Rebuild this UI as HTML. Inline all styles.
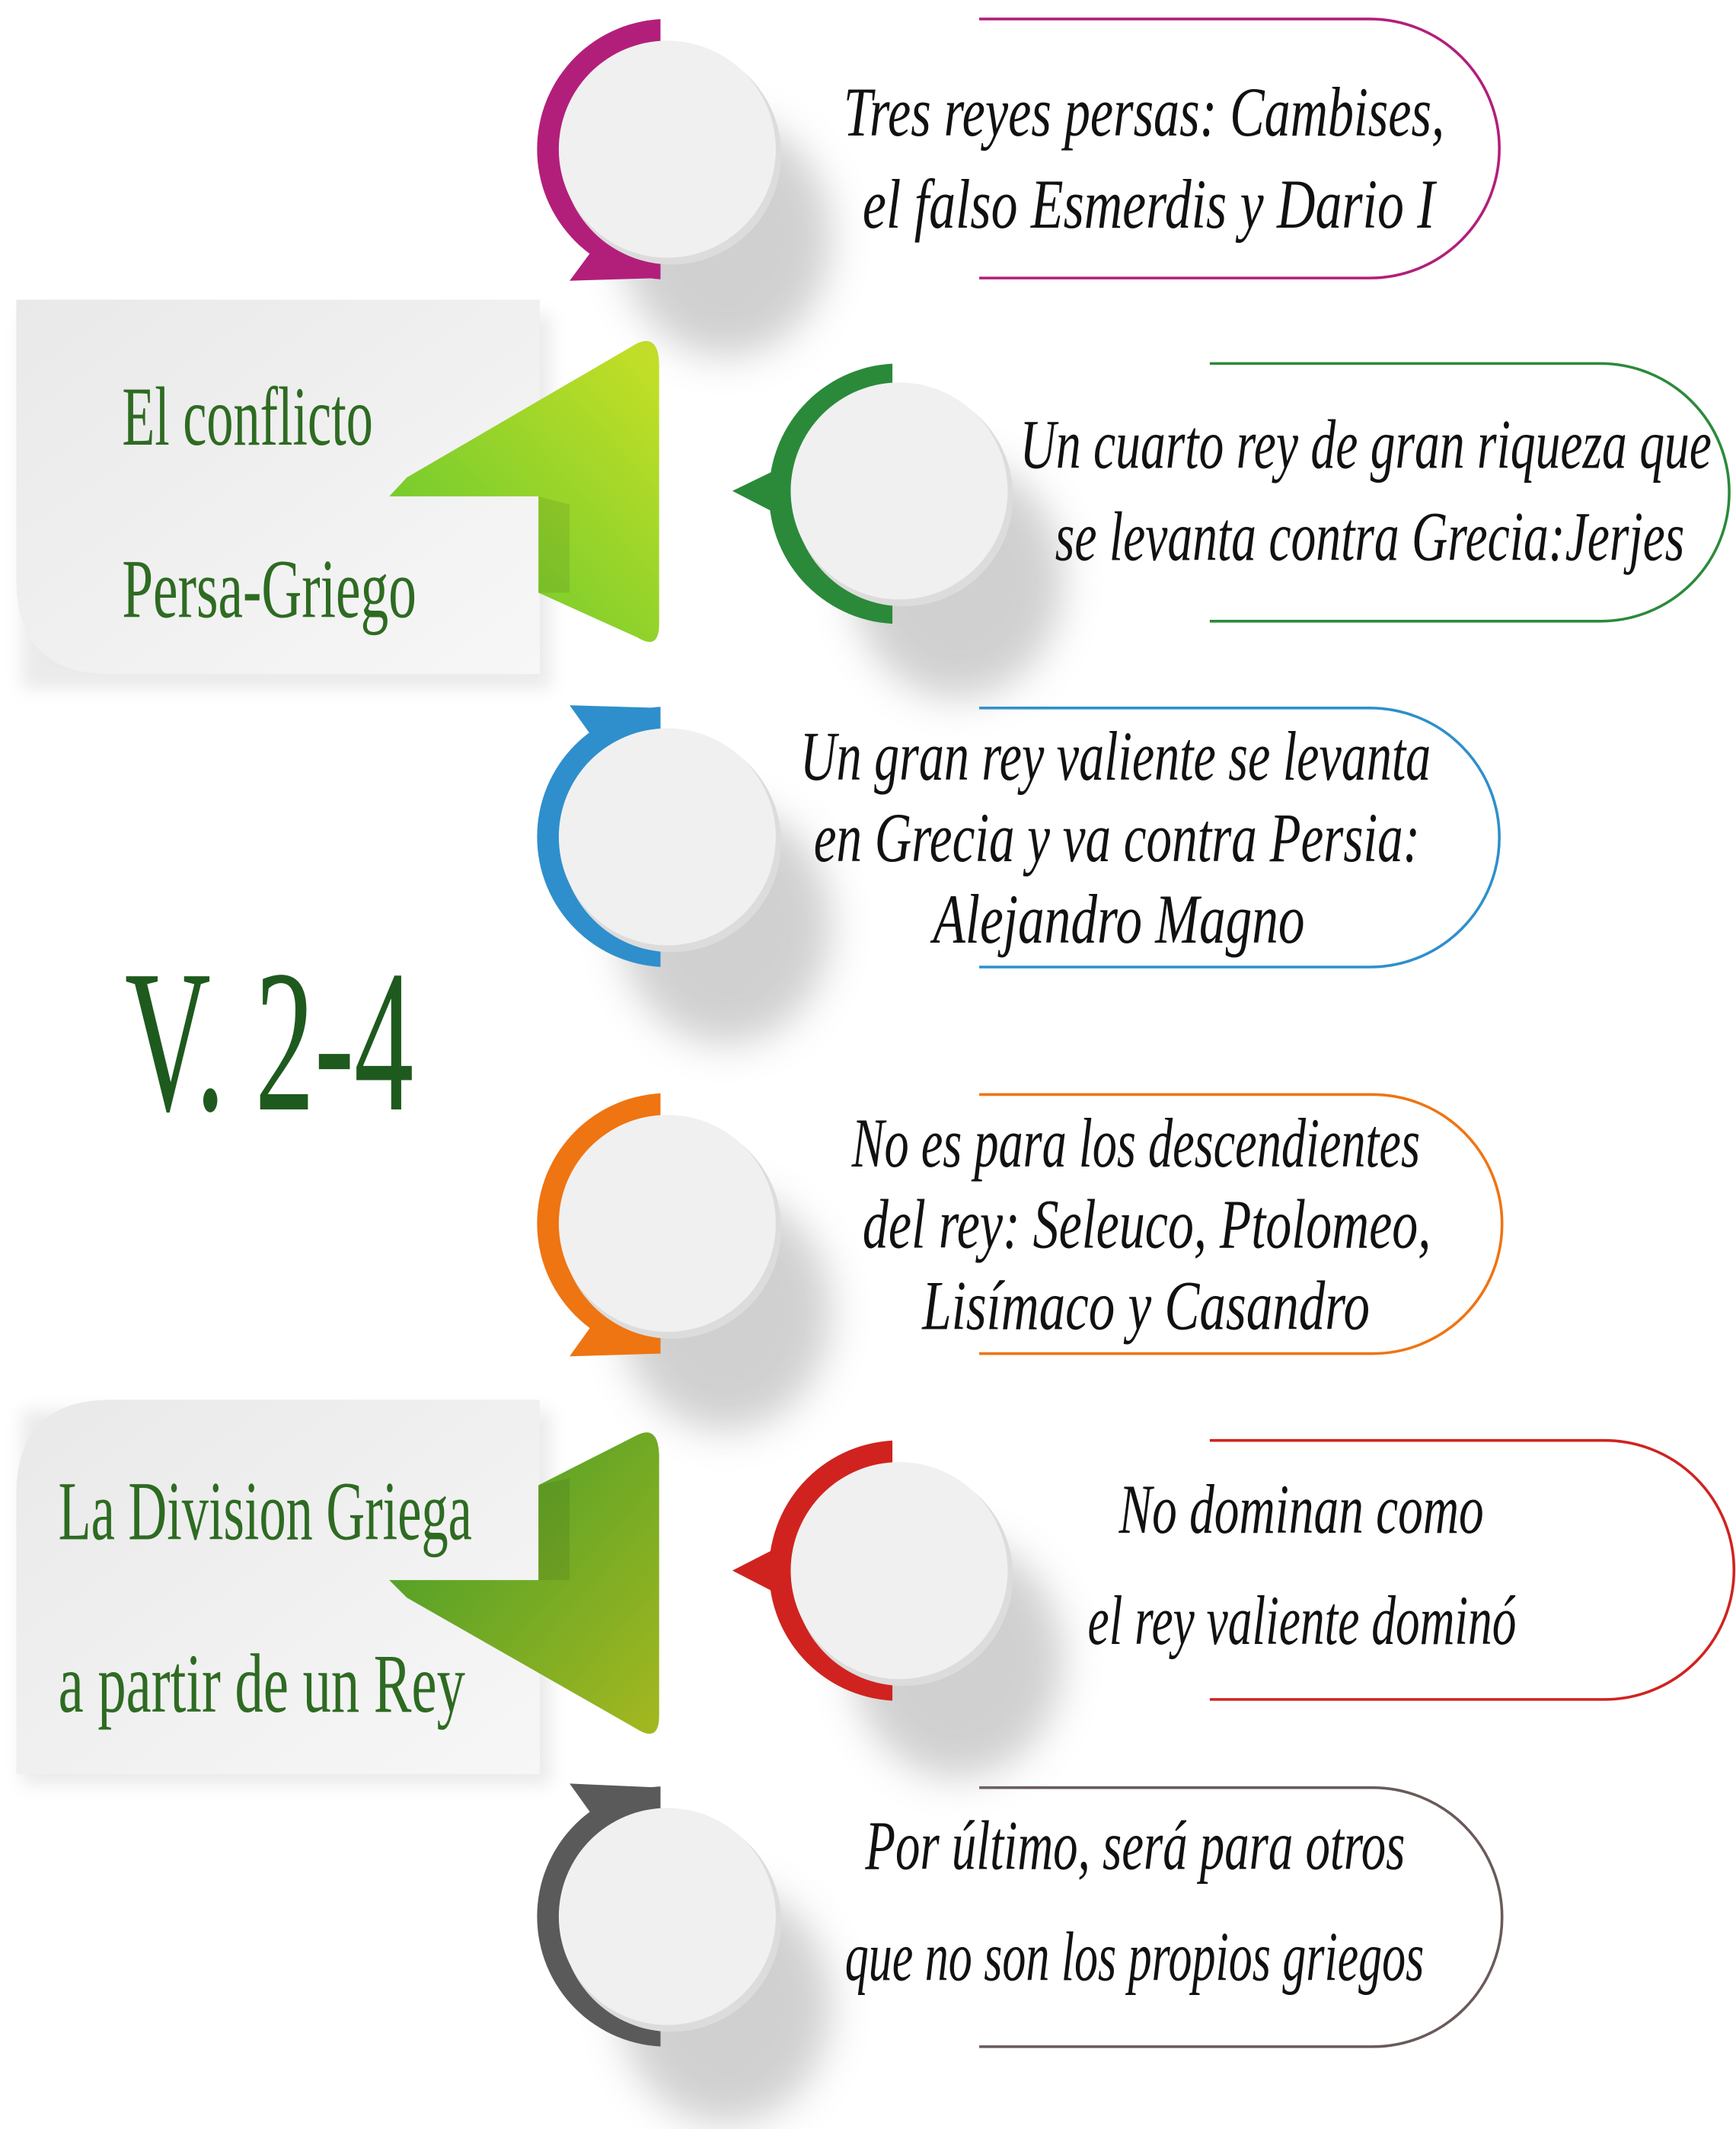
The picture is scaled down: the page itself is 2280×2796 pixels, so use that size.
<!DOCTYPE html>
<html><head><meta charset="utf-8"><style>html,body{margin:0;padding:0;background:#fff}svg{display:block}</style></head>
<body>
<svg xmlns="http://www.w3.org/2000/svg" width="2280" height="2796" viewBox="0 0 1280 1569.7">
<defs>
<filter id="blur" x="-50%" y="-50%" width="200%" height="200%"><feGaussianBlur stdDeviation="14"/></filter>
<filter id="blur2" x="-50%" y="-50%" width="200%" height="200%"><feGaussianBlur stdDeviation="6"/></filter>
<linearGradient id="card" x1="0" y1="0" x2="1" y2="1"><stop offset="0" stop-color="#e9e9e9"/><stop offset="1" stop-color="#f7f7f7"/></linearGradient>
<linearGradient id="g1" x1="0" y1="1" x2="1" y2="0"><stop offset="0" stop-color="#5cc530"/><stop offset="1" stop-color="#c8e026"/></linearGradient>
<linearGradient id="g2" x1="0" y1="0" x2="1" y2="1"><stop offset="0" stop-color="#3e9a2a"/><stop offset="1" stop-color="#a4b820"/></linearGradient>
<clipPath id="cl"><rect x="0" y="0" width="487" height="1569"/></clipPath>
<clipPath id="cl2"><rect x="0" y="0" width="658" height="1569"/></clipPath>
</defs>

<!-- cards -->
<rect x="16" y="232" width="390" height="276" fill="#ccc" filter="url(#blur2)" opacity="0.4"/>
<path d="M12 221 H398 V497 H82 Q12 497 12 427 Z" fill="url(#card)"/>
<rect x="16" y="1040" width="390" height="276" fill="#ccc" filter="url(#blur2)" opacity="0.4"/>
<path d="M82 1032 H398 V1308 H12 V1102 Q12 1032 82 1032 Z" fill="url(#card)"/>

<!-- arrows -->
<path d="M470 253 Q486 246 486 270 V460 Q486 480 470 470 L397 437 V366 H287 L300 352 Z" fill="url(#g1)"/>
<path d="M397 366 L420 372 L420 437 L397 437 Z" fill="#000" opacity="0.08"/>
<path d="M470 1058 Q486 1050 486 1075 V1265 Q486 1285 470 1275 L300 1178 L287 1165 H397 V1095 Z" fill="url(#g2)"/>
<path d="M397 1095 L420 1090 L420 1165 L397 1165 Z" fill="#000" opacity="0.08"/>

<g font-family="'Liberation Serif', serif" fill="#2e6b22" font-size="62">
<text x="90" y="328" textLength="185" lengthAdjust="spacingAndGlyphs">El conflicto</text>
<text x="90" y="455" textLength="217" lengthAdjust="spacingAndGlyphs">Persa-Griego</text>
<text x="43" y="1135" textLength="305" lengthAdjust="spacingAndGlyphs">La Division Griega</text>
<text x="43" y="1262" textLength="300" lengthAdjust="spacingAndGlyphs">a partir de un Rey</text>
<text x="92" y="818" font-size="150" fill="#1e5a1e" textLength="213" lengthAdjust="spacingAndGlyphs">V. 2-4</text>
</g>

<!-- pills -->
<g fill="none" stroke-width="2">
<path d="M722 14 H1010 A95.5 95.5 0 0 1 1010 205 H722" stroke="#b21f7a"/>
<path d="M892 268 H1180 A95 95 0 0 1 1180 458 H892" stroke="#2a8a3a"/>
<path d="M722 522 H1010 A95.5 95.5 0 0 1 1010 713 H722" stroke="#2e8fcc"/>
<path d="M722 807 H1012 A95.5 95.5 0 0 1 1012 998 H722" stroke="#ef7412"/>
<path d="M892 1062 H1183 A95.5 95.5 0 0 1 1183 1253 H892" stroke="#d0231f"/>
<path d="M722 1318 H1012 A95.5 95.5 0 0 1 1012 1509 H722" stroke="#6a5a5a"/>
</g>

<!-- circles -->
<g>
<ellipse cx="535" cy="175" rx="78" ry="88" fill="#999" filter="url(#blur)" opacity="0.45"/>
<circle cx="492" cy="110" r="96" fill="#b21f7a" clip-path="url(#cl)"/>
<path d="M420 207 L440 180 L487 190 V205 Z" fill="#b21f7a"/>
<circle cx="495" cy="114" r="81" fill="#dcdcdc"/><circle cx="492" cy="110" r="80" fill="#f0f0f0"/>

<ellipse cx="706" cy="427" rx="78" ry="88" fill="#999" filter="url(#blur)" opacity="0.45"/>
<circle cx="663" cy="364" r="96" fill="#2a8a3a" clip-path="url(#cl2)"/>
<path d="M540 362 L575 345 L575 380 Z" fill="#2a8a3a"/>
<circle cx="666" cy="366" r="81" fill="#dcdcdc"/><circle cx="663" cy="362" r="80" fill="#f0f0f0"/>

<ellipse cx="535" cy="682" rx="78" ry="88" fill="#999" filter="url(#blur)" opacity="0.45"/>
<circle cx="492" cy="617" r="96" fill="#2e8fcc" clip-path="url(#cl)"/>
<path d="M420 520 L440 548 L487 540 V522 Z" fill="#2e8fcc"/>
<circle cx="495" cy="621" r="81" fill="#dcdcdc"/><circle cx="492" cy="617" r="80" fill="#f0f0f0"/>

<ellipse cx="535" cy="967" rx="78" ry="88" fill="#999" filter="url(#blur)" opacity="0.45"/>
<circle cx="492" cy="902" r="96" fill="#ef7412" clip-path="url(#cl)"/>
<path d="M420 1000 L440 972 L487 982 V998 Z" fill="#ef7412"/>
<circle cx="495" cy="906" r="81" fill="#dcdcdc"/><circle cx="492" cy="902" r="80" fill="#f0f0f0"/>

<ellipse cx="706" cy="1223" rx="78" ry="88" fill="#999" filter="url(#blur)" opacity="0.45"/>
<circle cx="663" cy="1158" r="96" fill="#d0231f" clip-path="url(#cl2)"/>
<path d="M540 1158 L575 1140 L575 1176 Z" fill="#d0231f"/>
<circle cx="666" cy="1162" r="81" fill="#dcdcdc"/><circle cx="663" cy="1158" r="80" fill="#f0f0f0"/>

<ellipse cx="535" cy="1478" rx="78" ry="88" fill="#999" filter="url(#blur)" opacity="0.45"/>
<circle cx="492" cy="1413" r="96" fill="#5a5a5a" clip-path="url(#cl)"/>
<path d="M420 1315 L440 1343 L487 1335 V1318 Z" fill="#5a5a5a"/>
<circle cx="495" cy="1417" r="81" fill="#dcdcdc"/><circle cx="492" cy="1413" r="80" fill="#f0f0f0"/>
</g>

<!-- pill texts -->
<g font-family="'Liberation Serif', serif" font-style="italic" fill="#111" font-size="52">
<text x="622" y="100" textLength="443" lengthAdjust="spacingAndGlyphs">Tres reyes persas: Cambises,</text>
<text x="636" y="168" textLength="422" lengthAdjust="spacingAndGlyphs">el falso Esmerdis y Dario I</text>
<text x="752" y="345" textLength="510" lengthAdjust="spacingAndGlyphs">Un cuarto rey de gran riqueza que</text>
<text x="778" y="413" textLength="464" lengthAdjust="spacingAndGlyphs">se levanta contra Grecia:Jerjes</text>
<text x="590" y="575" textLength="465" lengthAdjust="spacingAndGlyphs">Un gran rey valiente se levanta</text>
<text x="600" y="635" textLength="447" lengthAdjust="spacingAndGlyphs">en Grecia y va contra Persia:</text>
<text x="688" y="695" textLength="274" lengthAdjust="spacingAndGlyphs">Alejandro Magno</text>
<text x="628" y="860" textLength="419" lengthAdjust="spacingAndGlyphs">No es para los descendientes</text>
<text x="636" y="920" textLength="419" lengthAdjust="spacingAndGlyphs">del rey: Seleuco, Ptolomeo,</text>
<text x="680" y="980" textLength="330" lengthAdjust="spacingAndGlyphs">Lisímaco y Casandro</text>
<text x="825" y="1130" textLength="269" lengthAdjust="spacingAndGlyphs">No dominan como</text>
<text x="802" y="1212" textLength="316" lengthAdjust="spacingAndGlyphs">el rey valiente dominó</text>
<text x="638" y="1378" textLength="398" lengthAdjust="spacingAndGlyphs">Por último, será para otros</text>
<text x="623" y="1460" textLength="427" lengthAdjust="spacingAndGlyphs">que no son los propios griegos</text>
</g>
</svg>
</body></html>
